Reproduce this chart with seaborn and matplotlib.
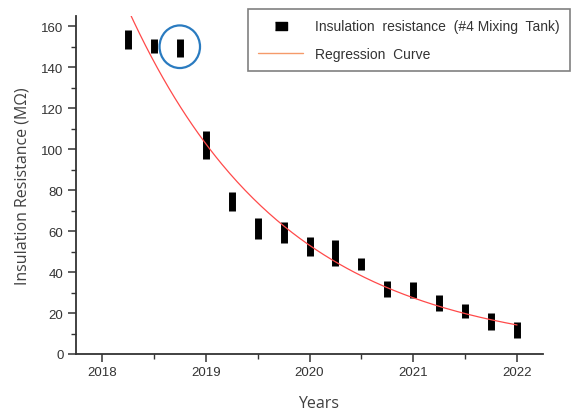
import numpy as np
import pandas as pd
import matplotlib
matplotlib.use("Agg")
import matplotlib.pyplot as plt
from matplotlib.lines import Line2D
from matplotlib.patches import Ellipse
from matplotlib.ticker import MultipleLocator
import seaborn as sns

# ---- data ----
years = [2018.25, 2018.5, 2018.75, 2019.0, 2019.25, 2019.5, 2019.75, 2020.0,
         2020.25, 2020.5, 2020.75, 2021.0, 2021.25, 2021.5, 2021.75, 2022.0]
res_low = [149, 147, 145, 95, 70, 56, 54, 48, 43, 41, 27.6, 27.4, 21, 17.8, 11.8, 8]
res_high = [158, 154, 154, 109, 79, 66.5, 64.5, 57, 55.5, 46.7, 35.6, 35, 28.8, 24.6, 19.8, 15.8]
highlight_year = 2018.75
highlight_value = 150
x_ticks = [2018, 2019, 2020, 2021, 2022]
y_ticks = [0, 20, 40, 60, 80, 100, 120, 140, 160]
label_points = "Insulation  resistance  (#4 Mixing  Tank)"
label_curve = "Regression  Curve"

# ---- regression (exponential fit on the range midpoints) ----
t = np.array(years)
mid = (np.array(res_low) + np.array(res_high)) / 2
slope, intercept = np.polyfit(t - t[0], np.log(mid), 1)
t_fit = np.linspace(t[0], t[-1], 200)
fit_df = pd.DataFrame({"Years": t_fit,
                       "Resistance": np.exp(intercept + slope * (t_fit - t[0]))})

sns.set_style("ticks")
plt.rcParams["font.family"] = ["Liberation Sans", "DejaVu Sans"]

fig = plt.figure(figsize=(5.78, 4.14), dpi=100)
ax = fig.add_axes([76 / 578, 1 - 355 / 414, (543 - 76) / 578, (355 - 17) / 414])

# measurement ranges as black bars
ax.vlines(years, res_low, res_high, colors="black", linewidth=5.0,
          zorder=3).set_capstyle("butt")

# regression curve
sns.lineplot(data=fit_df, x="Years", y="Resistance", ax=ax, color="#ff4a4a",
             linewidth=0.9, zorder=4, legend=False)

# highlight circle
ax.add_patch(Ellipse((highlight_year, highlight_value), width=0.39, height=20.8,
                     fill=False, edgecolor="#2a7bc0", linewidth=1.6, zorder=5))

ax.set_xlim(2017.75, 2022.25)
ax.set_ylim(0, 165)
ax.set_xticks(x_ticks)
ax.set_xticklabels([str(v) for v in x_ticks])
ax.set_yticks(y_ticks)
ax.xaxis.set_minor_locator(MultipleLocator(0.5))
ax.yaxis.set_minor_locator(MultipleLocator(10))

for s in ["top", "right"]:
    ax.spines[s].set_visible(False)
for s in ["left", "bottom"]:
    ax.spines[s].set_linewidth(1.3)
    ax.spines[s].set_color("#333333")

ax.tick_params(axis="both", which="major", length=6, width=1.1, color="#333333",
               labelsize=9.5, labelcolor="#333333", direction="out", pad=3)
ax.tick_params(axis="both", which="minor", length=3.5, width=1.0, color="#333333",
               direction="out")

ax.set_xlabel("Years", fontsize=11.5, color="#404040", family=["Open Sans", "DejaVu Sans"])
ax.set_ylabel("Insulation Resistance (MΩ)", fontsize=11.5, color="#404040",
              family=["Open Sans", "DejaVu Sans"])
ax.xaxis.set_label_coords(0.519, -0.122)
ax.yaxis.set_label_coords(-0.097, 0.5)

handles = [
    Line2D([], [], marker=[(-1, -0.58), (1, -0.58), (1, 0.58), (-1, 0.58)],
           color="black", linestyle="none", markersize=9),
    Line2D([], [], color="#f59a6a", linewidth=1.0),
]
leg = ax.legend(handles, [label_points, label_curve], loc="upper left",
                bbox_to_anchor=(248 / 578, 1 - 10 / 414), bbox_transform=fig.transFigure,
                fontsize=10, frameon=True, fancybox=False, framealpha=1,
                edgecolor="#808080", handlelength=3.2, handletextpad=0.85,
                borderpad=0.75, labelspacing=0.95, borderaxespad=0)
leg.get_frame().set_linewidth(1.2)
for txt in leg.get_texts():
    txt.set_color("#333333")

fig.savefig("out.png", dpi=100)
